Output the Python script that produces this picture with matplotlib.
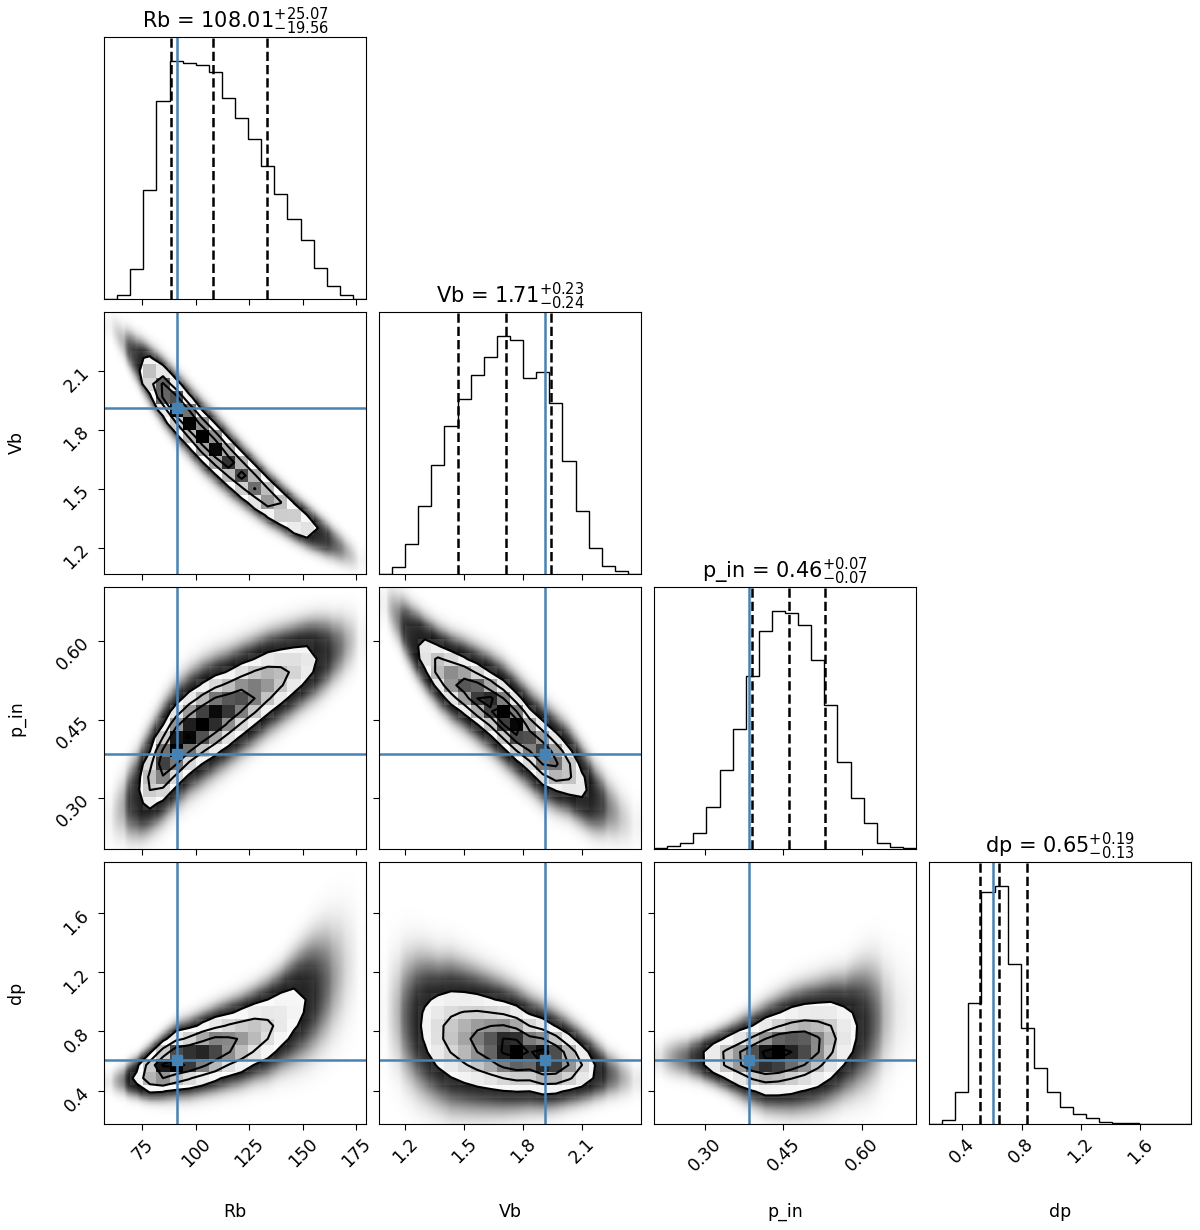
import math
import numpy as np
import matplotlib
matplotlib.use("Agg")
import matplotlib.pyplot as plt
from matplotlib.colors import LinearSegmentedColormap

# parameters, plot ranges, truths and quantiles
labels = ["Rb", "Vb", "p_in", "dp"]
ranges = [(57.0, 179.5), (1.066, 2.398), (0.203, 0.703), (0.175, 1.945)]
truths = [91.0, 1.91, 0.385, 0.61]
quantiles = [(88.45, 108.01, 133.08), (1.47, 1.71, 1.94),
             (0.39, 0.46, 0.53), (0.52, 0.65, 0.84)]
titles = [r"Rb = $108.01_{-19.56}^{+25.07}$",
          r"Vb = $1.71_{-0.24}^{+0.23}$",
          r"p_in = $0.46_{-0.07}^{+0.07}$",
          r"dp = $0.65_{-0.13}^{+0.19}$"]
ticks = [[75, 100, 125, 150, 175], [1.2, 1.5, 1.8, 2.1],
         [0.30, 0.45, 0.60], [0.4, 0.8, 1.2, 1.6]]
tick_labels = [["75", "100", "125", "150", "175"], ["1.2", "1.5", "1.8", "2.1"],
               ["0.30", "0.45", "0.60"], ["0.4", "0.8", "1.2", "1.6"]]

# 1D histograms, 20 bins over each range (relative heights)
hist_rb = [0.002, 0.018, 0.128, 0.458, 0.83, 1.0, 0.99, 0.983, 0.954, 0.843,
           0.76, 0.67, 0.558, 0.44, 0.337, 0.246, 0.132, 0.053, 0.018, 0.002]
hist_vb = [0.002, 0.028, 0.126, 0.284, 0.459, 0.62, 0.734, 0.836, 0.909, 1.0,
           0.983, 0.822, 0.85, 0.717, 0.473, 0.263, 0.109, 0.032, 0.011, 0.002]
hist_pin = [0.003, 0.013, 0.024, 0.066, 0.178, 0.331, 0.502, 0.726, 0.915, 1.0,
            0.992, 0.94, 0.793, 0.604, 0.366, 0.213, 0.108, 0.027, 0.007, 0.003]
hist_dp = [0.002, 0.017, 0.136, 0.506, 0.975, 1.0, 0.67, 0.404, 0.234, 0.136,
           0.073, 0.041, 0.024, 0.01, 0.006, 0.003, 0.001, 0.0, 0.0, 0.001]
hists = [hist_rb, hist_vb, hist_pin, hist_dp]

# 2D panels: centre and spread of the row parameter in each bin of the column parameter
vb_rb_mu = [2.33, 2.244, 2.16, 2.078, 1.999, 1.919, 1.844, 1.769, 1.703, 1.636,
            1.573, 1.513, 1.454, 1.404, 1.353, 1.307, 1.264, 1.221, 1.178, 1.135]
vb_rb_sd = [0.045, 0.05, 0.055, 0.06, 0.064, 0.066, 0.067, 0.067, 0.066, 0.064,
            0.061, 0.058, 0.055, 0.052, 0.05, 0.048, 0.046, 0.045, 0.044, 0.043]
pin_rb_mu = [0.265, 0.285, 0.305, 0.335, 0.368, 0.4, 0.424, 0.442, 0.458, 0.472,
             0.488, 0.503, 0.519, 0.532, 0.545, 0.558, 0.569, 0.58, 0.592, 0.603]
pin_rb_sd = [0.033, 0.035, 0.037, 0.039, 0.041, 0.042, 0.042, 0.042, 0.041, 0.04,
             0.039, 0.038, 0.037, 0.036, 0.035, 0.034, 0.034, 0.033, 0.033, 0.033]
dp_rb_mu = [0.46, 0.47, 0.49, 0.52, 0.56, 0.6, 0.62, 0.65, 0.68, 0.71,
            0.74, 0.78, 0.82, 0.88, 0.95, 1.02, 1.09, 1.16, 1.23, 1.3]
dp_rb_sd = [0.05, 0.055, 0.06, 0.07, 0.08, 0.09, 0.095, 0.1, 0.105, 0.11,
            0.115, 0.12, 0.13, 0.14, 0.16, 0.18, 0.2, 0.22, 0.24, 0.26]
pin_vb_mu = [0.67, 0.64, 0.605, 0.575, 0.55, 0.53, 0.515, 0.498, 0.481, 0.46,
             0.436, 0.411, 0.387, 0.369, 0.352, 0.325, 0.298, 0.281, 0.264, 0.25]
pin_vb_sd = [0.025, 0.027, 0.028, 0.029, 0.03, 0.031, 0.032, 0.033, 0.034, 0.035,
             0.035, 0.035, 0.035, 0.034, 0.033, 0.032, 0.031, 0.03, 0.03, 0.03]
dp_vb_mu = [0.95, 0.92, 0.88, 0.84, 0.8, 0.78, 0.76, 0.74, 0.72, 0.7,
            0.68, 0.655, 0.63, 0.61, 0.59, 0.565, 0.54, 0.51, 0.49, 0.47]
dp_vb_sd = [0.24, 0.23, 0.22, 0.21, 0.2, 0.2, 0.19, 0.18, 0.17, 0.16,
            0.15, 0.14, 0.13, 0.12, 0.11, 0.1, 0.09, 0.08, 0.075, 0.07]
dp_pin_mu = [0.62, 0.62, 0.62, 0.62, 0.62, 0.62, 0.62, 0.62, 0.63, 0.65,
             0.67, 0.69, 0.71, 0.74, 0.77, 0.82, 0.86, 0.9, 0.93, 0.95]
dp_pin_sd = [0.07, 0.07, 0.07, 0.07, 0.075, 0.085, 0.1, 0.115, 0.13, 0.14,
             0.15, 0.155, 0.16, 0.165, 0.17, 0.19, 0.21, 0.22, 0.22, 0.22]

ridges = {(1, 0): (vb_rb_mu, vb_rb_sd), (2, 0): (pin_rb_mu, pin_rb_sd),
          (3, 0): (dp_rb_mu, dp_rb_sd), (2, 1): (pin_vb_mu, pin_vb_sd),
          (3, 1): (dp_vb_mu, dp_vb_sd), (3, 2): (dp_pin_mu, dp_pin_sd)}
# how far the scatter of samples reaches beyond the contours
cloud_gain = {(1, 0): 15, (2, 0): 20, (3, 0): 25, (2, 1): 20, (3, 1): 20, (3, 2): 20}

truth_color = "#4682b4"
erf = np.vectorize(math.erf)
density_cmap = LinearSegmentedColormap.from_list("density_cmap", ["k", (1, 1, 1, 0)])

plt.rcParams["font.size"] = 12.5
plt.rcParams["lines.linewidth"] = 1.8
plt.rcParams["xtick.major.size"] = 4.5
plt.rcParams["ytick.major.size"] = 4.5


def edges_of(k):
    lo, hi = ranges[k]
    return np.linspace(lo, hi, 21)


def draw_2d(ax, i, j):
    xe, ye = edges_of(j), edges_of(i)
    xc = 0.5 * (xe[1:] + xe[:-1])
    yc = 0.5 * (ye[1:] + ye[:-1])
    w = np.array(hists[j], dtype=float)
    mu = np.array(ridges[(i, j)][0])
    sd = np.array(ridges[(i, j)][1])

    # binned density, as a 2D histogram
    zt = (ye[None, 1:] - mu[:, None]) / (sd[:, None] * math.sqrt(2))
    zb = (ye[None, :-1] - mu[:, None]) / (sd[:, None] * math.sqrt(2))
    H = w[:, None] * 0.5 * (erf(zt) - erf(zb))

    # cloud of samples outside the contours
    xf = np.linspace(xe[0], xe[-1], 320)
    yf = np.linspace(ye[0], ye[-1], 320)
    wf = np.interp(xf, xc, w)
    muf = np.interp(xf, xc, mu)
    sdf = np.interp(xf, xc, sd)
    D = wf[None, :] * np.exp(-0.5 * ((yf[:, None] - muf[None, :]) / sdf[None, :]) ** 2) / sdf[None, :]
    alpha = 1 - np.exp(-cloud_gain[(i, j)] * D / D.max())
    img = np.zeros((len(yf), len(xf), 4))
    img[..., 3] = alpha
    ax.imshow(img, extent=[xe[0], xe[-1], ye[0], ye[-1]], origin="lower",
              aspect="auto", interpolation="bilinear", zorder=0)

    # contour levels at 0.5, 1, 1.5, 2 sigma
    levels = 1.0 - np.exp(-0.5 * np.arange(0.5, 2.1, 0.5) ** 2)
    Hflat = np.sort(H.flatten())[::-1]
    sm = np.cumsum(Hflat)
    sm /= sm[-1]
    V = np.array([Hflat[sm <= v0][-1] for v0 in levels])
    V.sort()

    H2 = H.min() + np.zeros((H.shape[0] + 4, H.shape[1] + 4))
    H2[2:-2, 2:-2] = H
    H2[2:-2, 1] = H[:, 0]
    H2[2:-2, -2] = H[:, -1]
    H2[1, 2:-2] = H[0]
    H2[-2, 2:-2] = H[-1]
    H2[1, 1] = H[0, 0]
    H2[1, -2] = H[0, -1]
    H2[-2, 1] = H[-1, 0]
    H2[-2, -2] = H[-1, -1]
    X2 = np.concatenate([xc[0] + np.array([-2, -1]) * np.diff(xc[:2]), xc,
                         xc[-1] + np.array([1, 2]) * np.diff(xc[-2:])])
    Y2 = np.concatenate([yc[0] + np.array([-2, -1]) * np.diff(yc[:2]), yc,
                         yc[-1] + np.array([1, 2]) * np.diff(yc[-2:])])

    ax.contourf(X2, Y2, H2.T, [V.min(), H.max()], colors="white", antialiased=False)
    ax.pcolormesh(xe, ye, H.max() - H.T, cmap=density_cmap)
    ax.contour(X2, Y2, H2.T, V, colors="k", linewidths=1.5)

    ax.axvline(truths[j], color=truth_color)
    ax.axhline(truths[i], color=truth_color)
    ax.plot(truths[j], truths[i], "s", color=truth_color, ms=7.5)
    ax.set_xlim(ranges[j])
    ax.set_ylim(ranges[i])


def draw_1d(ax, i):
    e = edges_of(i)
    ax.stairs(hists[i], e, color="k")
    for q in quantiles[i]:
        ax.axvline(q, ls="dashed", color="k")
    ax.axvline(truths[i], color=truth_color)
    ax.set_xlim(ranges[i])
    ax.set_ylim(0, 1.1 * max(hists[i]))
    ax.set_yticks([])
    ax.set_title(titles[i], fontsize=15)


fig = plt.figure(figsize=(12, 12.3), dpi=100)
W, Hpx = 1200.0, 1230.0
size = 262.0
step = 275.0

for i in range(4):
    for j in range(i + 1):
        left = (104 + step * j) / W
        bottom = 1 - (37 + step * i + size) / Hpx
        ax = fig.add_axes([left, bottom, size / W, size / Hpx])
        if i == j:
            draw_1d(ax, i)
        else:
            draw_2d(ax, i, j)
            ax.set_yticks(ticks[i])
            if j == 0:
                ax.set_yticklabels(tick_labels[i], rotation=45)
                ax.set_ylabel(labels[i])
                ax.yaxis.set_label_coords(-0.3, 0.5)
            else:
                ax.set_yticklabels([])
        ax.set_xticks(ticks[j])
        if i == 3:
            ax.set_xticklabels(tick_labels[j], rotation=45)
            ax.set_xlabel(labels[j])
            ax.xaxis.set_label_coords(0.5, -0.3)
        else:
            ax.set_xticklabels([])

fig.savefig("out.png", dpi=100)
